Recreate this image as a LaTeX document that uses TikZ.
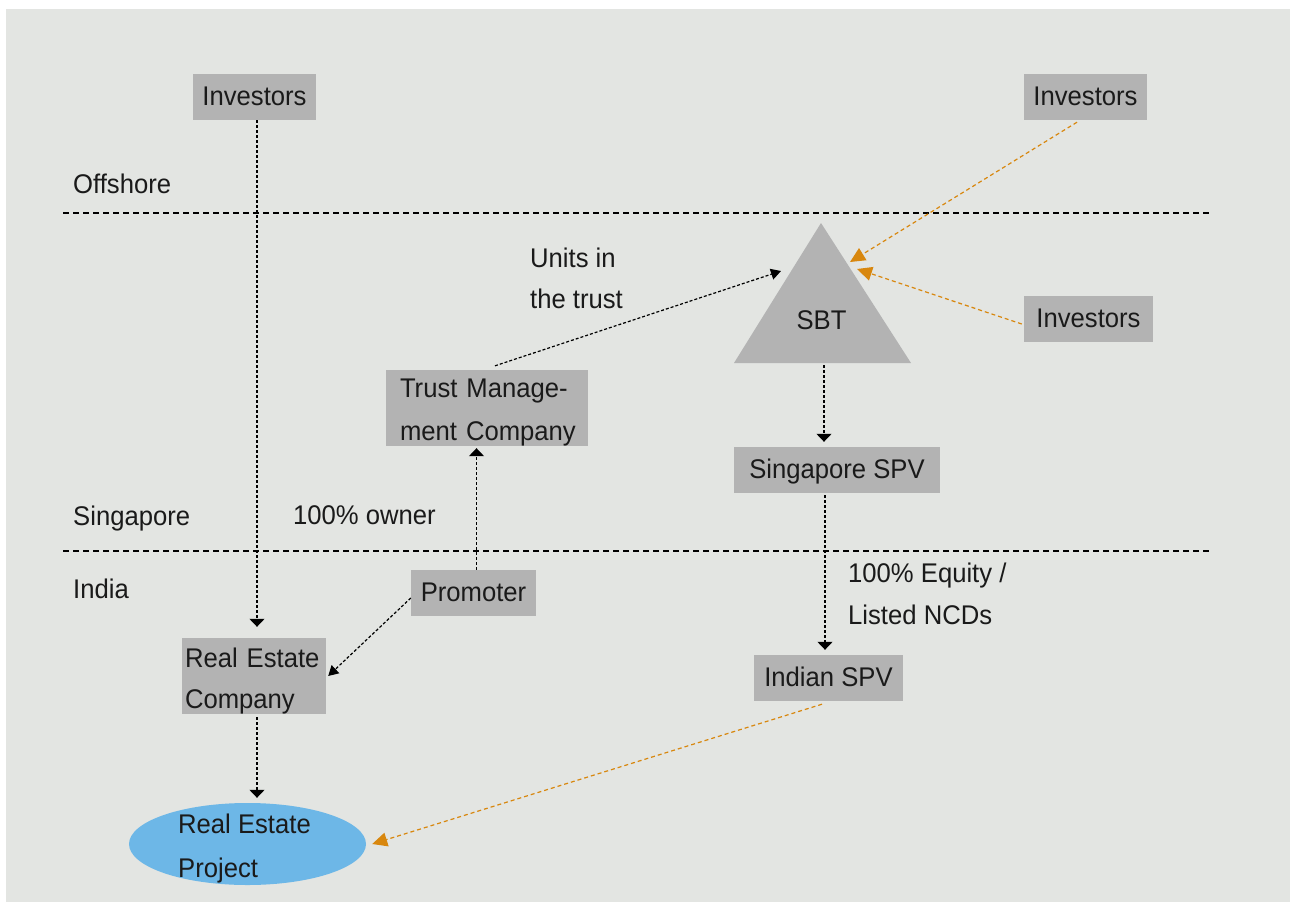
\documentclass[tikz,border=0pt]{standalone}
\usepackage{fontspec}
\setmainfont{Liberation Sans}[FakeStretch=0.95]
\usetikzlibrary{arrows.meta,shapes.geometric,calc}
\definecolor{bg}{HTML}{E3E5E2}
\definecolor{boxgray}{HTML}{B3B3B3}
\definecolor{orangeline}{HTML}{D8870E}
\definecolor{blueell}{HTML}{6DB7E7}
\definecolor{ink}{HTML}{1A1A1A}
\begin{document}
\begin{tikzpicture}[x=1pt,y=-1pt,
  every node/.style={font=\fontsize{27}{42}\selectfont, text=ink},
  box/.style={fill=boxgray, inner sep=0pt, text height=19.3pt, text depth=2.3pt, minimum height=46pt},
  mbox/.style={fill=boxgray, inner ysep=0pt, align=left, minimum height=76pt},
  lbl/.style={inner sep=0pt, anchor=base west},
  mlbl/.style={inner sep=0pt, anchor=north west, align=left},
  divider/.style={draw=black, line width=1.6pt, dash pattern=on 6pt off 4pt},
  conn/.style={draw=black, line width=1.2pt, dash pattern=on 3pt off 2pt, -{Triangle[length=10pt,width=11pt]}},
  vconn/.style={draw=black, line width=1.2pt, dash pattern=on 3pt off 2pt, -{Triangle[length=8pt,width=15pt]}},
  oconn/.style={draw=orangeline, line width=1.2pt, dash pattern=on 4pt off 3pt, -{Triangle[length=15pt,width=14pt]}}
]
\useasboundingbox (0,0) rectangle (1290,902);
\fill[white] (0,0) rectangle (1290,902);
\fill[bg] (6,9) rectangle (1290,902);

% dividers
\coordinate (d1a) at (63,213); \coordinate (d1b) at (1210,213);
\coordinate (d2a) at (63,551); \coordinate (d2b) at (1210,551);
\draw[divider] (d1a) -- (d1b);
\draw[divider] (d2a) -- (d2b);

% region labels
\node[lbl] (offshore) at (73,193) {Offshore};
\node[lbl] (singapore) at (73,525) {Singapore};
\node[lbl] (india) at (73,598) {India};

% boxes
\node[box, minimum width=123pt] (inv1) at (254.5,97) {Investors};
\node[box, minimum width=123pt] (inv2) at (1085.5,97) {Investors};
\node[box, minimum width=129pt] (inv3) at (1088.5,319) {Investors};
\node[box, minimum width=206pt] (sgspv) at (837,470) {Singapore SPV};
\node[box, minimum width=149pt] (indspv) at (828.5,678) {Indian SPV};
\node[box, minimum width=125pt] (prom) at (473.5,593) {Promoter};
\node[mbox, inner xsep=14pt, text width=174pt, font=\fontsize{27}{43}\selectfont] (tmc) at (487,408)
  {\rule{0pt}{27pt}\mbox{Trust Manage-}\\\mbox{ment Company}};
\node[mbox, inner xsep=3pt, text width=138pt, font=\fontsize{27}{41}\selectfont] (rec) at (254,676)
  {\rule{0pt}{29pt}\mbox{Real Estate}\\\mbox{Company}};

% SBT triangle
\coordinate (sbtapex) at (821,223);
\coordinate (sbtbl) at (734,363);
\coordinate (sbtbr) at (911,363);
\fill[boxgray] (sbtapex) -- (sbtbl) -- (sbtbr) -- cycle;
\node[lbl, anchor=base] (sbt) at (821.5,329) {SBT};
\coordinate (sbtL) at (781,271);
\coordinate (sbtR1) at (850,262);
\coordinate (sbtR2) at (857,269);
\coordinate (sbtbase) at (824,365);

% Real estate project
\node[ellipse, fill=blueell, minimum width=237pt, minimum height=82pt, inner sep=0pt] (rep) at (247.5,844) {};
\node[mlbl, font=\fontsize{27}{44}\selectfont] (reptext) at (178,813) {\rule{0pt}{20pt}Real Estate\\Project};

% free labels
\node[mlbl, font=\fontsize{27}{41}\selectfont] (units) at (530,247) {\rule{0pt}{20pt}Units in\\the trust};
\node[lbl] (owner) at (293,524) {100\% owner};
\node[mlbl, font=\fontsize{27}{42}\selectfont] (equity) at (848,562) {\rule{0pt}{20pt}100\% Equity /\\Listed NCDs};

% connectors
\draw[vconn, shorten >=11pt] ([xshift=2.5pt]inv1.south) -- ([xshift=2.5pt]inv1.south |- rec.north);
\draw[vconn, shorten <=3pt, shorten >=5pt] ([xshift=3pt]rec.south) -- ([xshift=3pt]rec.south |- rep.north);
\draw[vconn, shorten >=2pt] ([xshift=3pt]prom.north) -- ([xshift=3pt]prom.north |- tmc.south);
\draw[vconn, shorten >=5pt] (sbtbase) -- (sbtbase |- sgspv.north);
\draw[vconn, shorten <=2pt, shorten >=5pt] ([xshift=-12pt]sgspv.south) -- ([xshift=-12pt]sgspv.south |- indspv.north);
\draw[conn] ([xshift=8pt,yshift=4pt]tmc.north) -- (sbtL);
\draw[conn] ([yshift=-5pt]prom.west) -- ([xshift=2pt]rec.east);
\draw[oconn] ([xshift=-8.5pt,yshift=-2pt]inv2.south) -- (sbtR1);
\draw[oconn] ([xshift=-2pt,yshift=-5pt]inv3.west) -- (sbtR2);
\draw[oconn] ([xshift=-6.5pt,yshift=-3pt]indspv.south) -- ([xshift=6pt]rep.east);
\end{tikzpicture}
\end{document}
